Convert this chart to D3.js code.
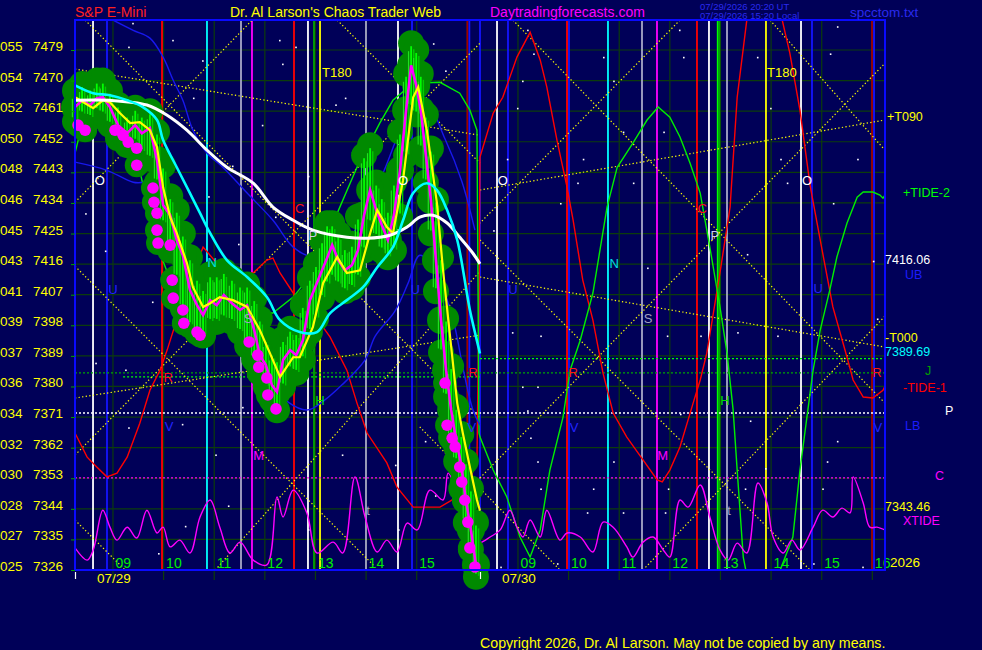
<!DOCTYPE html>
<html>
<head>
<meta charset="utf-8">
<script src="https://cdn.jsdelivr.net/npm/d3@7"></script>
<style>
  html, body { margin: 0; padding: 0; background: #000058; }
  svg { display: block; font-family: "Liberation Sans", Arial, sans-serif; }
</style>
</head>
<body>
<svg id="chart" width="982" height="650"></svg>
<script>
// time axis: session hours from 08:15 on 07/29 (0..8) and 07/30 (8..16)
const days = ['07/29', '07/30'];
const hours = ['09', '10', '11', '12', '13', '14', '15', '16'];
const priceTicks = [7326, 7335, 7344, 7353, 7362, 7371, 7380, 7389, 7398, 7407, 7416, 7425, 7434, 7443, 7452, 7461, 7470, 7479];
const priceCodes = ['025', '027', '028', '030', '032', '034', '036', '037', '039', '041', '043', '045', '046', '048', '050', '052', '054', '055'];

const barT = [0, .14, .30, .43, .55, .69, .85, 1.03, 1.19, 1.32, 1.48, 1.62, 1.74, 1.88, 2.01, 2.13, 2.27, 2.41, 2.53, 2.67, 2.80, 2.94,
  3.10, 3.26, 3.40, 3.54, 3.65, 3.77, 3.89, 3.99, 4.11, 4.25, 4.37, 4.50, 4.64, 4.76, 4.88, 4.98, 5.08, 5.20, 5.33, 5.47, 5.59, 5.71, 5.83, 5.95,
  6.06, 6.18, 6.30, 6.42, 6.54, 6.64, 6.74, 6.83, 6.93, 7.03, 7.13, 7.23, 7.33, 7.43, 7.53, 7.63, 7.72, 7.82, 7.92];
const barClose = [7462.2, 7464.2, 7462.8, 7464.8, 7465.1, 7462.2, 7456.9, 7454.5, 7456.9, 7454.5, 7456.0, 7446.6, 7433.4, 7430.4,
  7423.1, 7418.6, 7408.4, 7403.9, 7401.0, 7405.4, 7403.9, 7406.9, 7404.5, 7402.5, 7403.9, 7396.6, 7389.2, 7386.3, 7380.4, 7378.4,
  7387.8, 7390.7, 7389.2, 7393.6, 7405.4, 7409.8, 7414.2, 7417.8, 7421.6, 7417.2, 7414.2, 7415.7, 7420.1, 7430.4, 7437.8, 7431.9,
  7427.5, 7423.1, 7430.4, 7443.6, 7461.3, 7474.5, 7468.6, 7461.3, 7448.1, 7434.8, 7417.2, 7399.5, 7384.8, 7373.1, 7364.2, 7356.9, 7346.6, 7337.8, 7327.5];
const barHigh = [7467, 7469, 7468, 7470, 7470, 7467, 7463, 7460, 7462, 7460, 7461, 7455, 7445, 7436,
  7432, 7425, 7418, 7412, 7409, 7413, 7413, 7414, 7412, 7410, 7410, 7406, 7400, 7394, 7390, 7388,
  7394, 7397, 7396, 7404, 7412, 7416, 7423, 7428, 7428, 7425, 7421, 7422, 7430, 7448, 7451, 7440,
  7436, 7432, 7440, 7455, 7472, 7481, 7479, 7472, 7460, 7450, 7435, 7418, 7400, 7386, 7374, 7366, 7358, 7350, 7340];
const barLow = [7458, 7460, 7459, 7461, 7460, 7457, 7453, 7451, 7452, 7449, 7447, 7440, 7428, 7420,
  7412, 7403, 7398, 7396, 7395, 7399, 7399, 7400, 7399, 7396, 7392, 7388, 7384, 7380, 7376, 7373,
  7380, 7385, 7384, 7388, 7396, 7400, 7406, 7410, 7412, 7410, 7408, 7409, 7412, 7420, 7428, 7424,
  7420, 7418, 7420, 7430, 7448, 7462, 7460, 7450, 7440, 7425, 7408, 7390, 7377, 7365, 7358, 7350, 7340, 7332, 7324];
const lowDots = [[.06, 7456.9], [.20, 7455.4], [.79, 7455.4], [.95, 7453.9], [1.05, 7451.9], [1.22, 7450.1], [1.22, 7445.1], [1.54, 7438.4],
  [1.56, 7434.2], [1.62, 7431.0], [1.62, 7426.0], [1.64, 7422.2], [1.88, 7421.6], [1.92, 7411.3], [1.94, 7406.0], [2.13, 7402.5],
  [2.15, 7398.6], [2.41, 7396.0], [2.47, 7395.1], [3.44, 7393.1], [3.61, 7389.2], [3.63, 7385.7], [3.79, 7382.5], [3.81, 7377.5],
  [3.97, 7373.4], [7.31, 7381.0], [7.35, 7368.6], [7.45, 7364.8], [7.51, 7362.2], [7.60, 7356.3], [7.64, 7351.9], [7.70, 7346.6],
  [7.76, 7340.1], [7.80, 7332.5], [7.90, 7326.9]];

const yellowLine = [[0, 7465.1], [.36, 7461.9], [.55, 7464.2], [.69, 7463.6], [.89, 7460.4], [1.09, 7457.5], [1.28, 7457.8], [1.48, 7455.4],
  [1.62, 7450.4], [1.74, 7438.6], [1.88, 7429.8], [2.01, 7425.1], [2.21, 7416.3], [2.33, 7409.2], [2.53, 7403.4], [2.67, 7404.5],
  [2.86, 7406.3], [3.12, 7405.4], [3.40, 7403.4], [3.65, 7396.6], [3.85, 7389.8], [4.05, 7382.8], [4.31, 7388.6], [4.44, 7388.6],
  [4.70, 7397.5], [4.90, 7410.4], [5.18, 7418.1], [5.37, 7413.4], [5.63, 7414.2], [5.83, 7425.1], [5.97, 7431.9], [6.16, 7426.9],
  [6.28, 7425.1], [6.48, 7440.7], [6.68, 7465.1], [6.78, 7468.1], [6.95, 7455.4], [7.15, 7433.9], [7.27, 7414.2], [7.41, 7394.5],
  [7.55, 7375.1], [7.66, 7366.3], [7.80, 7356.3], [7.94, 7346.6], [8.00, 7343.46]];
const whiteLine = [[0, 7464.2], [.69, 7464.2], [1.42, 7462.8], [1.82, 7459.8], [2.21, 7455.4], [2.61, 7449.5], [3.00, 7444.5], [3.52, 7439.8],
  [3.91, 7432.8], [4.31, 7428.9], [4.70, 7426.0], [5.37, 7423.9], [5.77, 7423.6], [6.22, 7424.5], [6.56, 7426.9], [6.81, 7429.8],
  [7.07, 7430.4], [7.35, 7428.1], [7.60, 7423.9], [7.86, 7419.2], [8.00, 7416.06]];
const cyanLine = [[0, 7468.6], [.36, 7466.3], [.69, 7465.7], [1.03, 7464.2], [1.34, 7462.2], [1.62, 7458.4], [1.74, 7452.5], [2.01, 7444.5],
  [2.27, 7436.9], [2.47, 7431.0], [2.67, 7425.1], [3.00, 7417.2], [3.40, 7412.2], [3.79, 7406.3], [4.05, 7399.5], [4.44, 7396.0],
  [4.78, 7396.0], [5.04, 7401.6], [5.37, 7405.4], [5.69, 7409.2], [5.97, 7415.1], [6.28, 7421.0], [6.48, 7428.9], [6.68, 7436.9],
  [6.95, 7439.8], [7.15, 7437.8], [7.35, 7431.9], [7.55, 7423.1], [7.74, 7407.5], [7.80, 7402.5], [8.00, 7389.69]];
const blueLine1 = [[.75, 7487.8], [1.15, 7484.8], [1.48, 7482.5], [1.74, 7476.9], [1.94, 7470.1], [2.13, 7464.2], [2.33, 7455.4], [2.61, 7448.6],
  [2.92, 7444.5], [3.40, 7436.9], [3.91, 7428.9], [4.31, 7421.0], [4.70, 7418.1], [5.23, 7420.1], [6.02, 7440.7], [6.62, 7461.3],
  [6.91, 7464.2], [7.31, 7452.8], [7.64, 7440.4], [7.90, 7426.0]];
const blueLine2 = [[0, 7446.0], [.63, 7443.6], [1.15, 7440.1], [1.54, 7439.5], [2.07, 7426.0], [2.82, 7398.1], [3.42, 7392.8], [3.85, 7381.9],
  [4.21, 7375.4], [4.60, 7373.1], [4.88, 7375.4], [5.27, 7380.4], [5.73, 7387.8], [5.93, 7394.8], [6.32, 7402.2], [6.58, 7410.4],
  [6.81, 7418.6], [7.11, 7414.2], [7.47, 7399.5], [7.66, 7385.7], [7.86, 7373.1], [8.00, 7368.6]];
const tide1 = [[0, 7366.3], [.24, 7359.2], [.43, 7356.3], [.63, 7353.4], [.83, 7354.5], [1.03, 7359.2], [1.28, 7369.2], [1.48, 7378.9],
  [1.68, 7384.8], [1.82, 7390.7], [2.07, 7402.5], [2.33, 7413.4], [2.53, 7421.0], [2.80, 7416.3], [3.26, 7413.4], [3.52, 7413.4],
  [3.79, 7417.2], [3.91, 7417.8], [4.05, 7413.4], [4.31, 7407.5], [4.70, 7401.6], [5.04, 7394.5], [5.37, 7384.8], [5.57, 7375.1],
  [5.77, 7366.3], [6.16, 7357.5], [6.36, 7350.4], [6.68, 7344.5], [7.21, 7344.5], [7.55, 7347.5], [7.80, 7352.5], [7.94, 7358.4],
  [7.98, 7405.4], [8.00, 7447.5], [8.26, 7460.4], [8.45, 7465.1], [8.73, 7476.9], [8.99, 7484.2], [9.19, 7476.0], [9.32, 7468.1],
  [9.52, 7452.5], [9.72, 7438.6], [9.84, 7428.9], [10.03, 7411.3], [10.23, 7399.5], [10.43, 7383.9], [10.63, 7372.2], [10.90, 7365.1],
  [11.22, 7358.4], [11.50, 7352.5], [11.60, 7351.9], [11.75, 7355.4], [11.95, 7362.2], [12.21, 7375.1], [12.35, 7381.9], [12.48, 7389.8],
  [12.74, 7413.4], [12.94, 7432.8], [13.08, 7465.1], [13.27, 7487.8], [13.63, 7505.0], [13.97, 7487.8], [14.12, 7478.1], [14.32, 7461.3],
  [14.52, 7439.2], [14.72, 7423.1], [14.97, 7403.4], [15.25, 7388.6], [15.37, 7381.9], [15.57, 7376.9], [15.76, 7376.6], [15.96, 7378.9], [16.00, 7380.1]];
const tide2 = [[0, 7448.6], [.16, 7458.4], [.49, 7463.4], [.99, 7452.5], [1.28, 7443.6], [1.42, 7433.9], [1.68, 7419.2], [2.13, 7401.6],
  [2.47, 7393.6], [2.73, 7396.6], [3.12, 7399.5], [3.52, 7401.6], [3.91, 7401.6], [4.31, 7406.3], [4.58, 7411.3], [4.84, 7419.2],
  [5.18, 7431.0], [5.57, 7444.5], [6.02, 7457.5], [6.28, 7464.2], [6.68, 7469.2], [7.21, 7469.5], [7.60, 7466.3], [7.80, 7461.3],
  [7.94, 7455.4], [7.98, 7366.3], [8.00, 7365.1], [8.26, 7355.4], [8.53, 7347.5], [8.79, 7335.7], [8.99, 7329.8], [9.19, 7337.8],
  [9.38, 7355.4], [9.64, 7371.0], [9.78, 7384.8], [9.98, 7393.6], [10.23, 7407.5], [10.51, 7432.8], [10.71, 7444.5], [11.02, 7451.6],
  [11.30, 7458.4], [11.52, 7462.2], [11.75, 7459.2], [11.95, 7453.4], [12.15, 7445.7], [12.35, 7436.9], [12.54, 7421.0], [12.74, 7403.4],
  [12.88, 7389.8], [13.00, 7373.1], [13.08, 7355.4], [13.20, 7329.8], [13.27, 7324.5], [13.63, 7317.0], [13.93, 7326.0], [14.18, 7335.7],
  [14.32, 7355.4], [14.58, 7384.8], [14.72, 7396.6], [14.91, 7408.4], [15.05, 7418.1], [15.25, 7428.1], [15.45, 7435.7], [15.57, 7437.2],
  [15.76, 7437.2], [15.90, 7436.3], [15.96, 7435.4], [16.00, 7436.3]];
const xtide = [[0, 7332.5], [.24, 7328.9], [.36, 7331.9], [.55, 7343.6], [.69, 7338.6], [.83, 7334.8], [1.03, 7338.6], [1.22, 7335.4],
  [1.42, 7343.6], [1.62, 7336.9], [1.74, 7338.6], [1.88, 7332.8], [2.07, 7334.8], [2.27, 7331.0], [2.47, 7341.6], [2.67, 7346.6],
  [2.86, 7338.6], [3.06, 7331.0], [3.26, 7334.2], [3.52, 7328.9], [3.79, 7327.5], [3.99, 7347.5], [4.11, 7341.6], [4.31, 7349.5],
  [4.58, 7342.8], [4.78, 7331.0], [5.10, 7334.2], [5.29, 7331.0], [5.53, 7353.4], [5.73, 7341.6], [5.97, 7331.3], [6.16, 7334.8],
  [6.36, 7331.3], [6.56, 7339.8], [6.76, 7337.8], [7.01, 7349.5], [7.27, 7346.6], [7.37, 7354.5], [7.55, 7348.6], [7.70, 7340.7],
  [7.86, 7333.4], [8.00, 7333.9], [8.20, 7335.7], [8.40, 7337.8], [8.59, 7343.6], [8.73, 7338.6], [8.85, 7335.7], [8.99, 7340.7],
  [9.19, 7335.7], [9.32, 7343.6], [9.58, 7334.8], [9.72, 7336.9], [9.98, 7335.7], [10.23, 7331.3], [10.43, 7340.1], [10.63, 7338.6],
  [10.90, 7332.8], [11.02, 7329.8], [11.22, 7334.2], [11.42, 7335.7], [11.62, 7331.9], [11.75, 7329.8], [11.95, 7346.6], [12.11, 7344.5],
  [12.35, 7351.0], [12.54, 7341.6], [12.74, 7331.9], [12.90, 7328.9], [13.08, 7333.9], [13.27, 7331.0], [13.49, 7351.6], [13.67, 7345.7],
  [13.79, 7335.7], [13.99, 7331.0], [14.16, 7334.8], [14.32, 7331.9], [14.58, 7338.6], [14.77, 7343.6], [14.97, 7341.6], [15.15, 7344.2],
  [15.31, 7342.8], [15.37, 7353.4], [15.57, 7345.7], [15.70, 7338.6], [15.84, 7338.6], [16.00, 7337.8]];

const verticals = [[.356, 'w'], [.632, 'b'], [1.719, 'r'], [2.607, 'c'], [3.279, 'g'], [3.496, 'm'], [4.326, 'r'], [4.602, 'w'], [4.721, 'dg'],
  [4.840, 'y'], [5.748, 'g'], [6.380, 'w'], [6.657, 'b'], [7.75, 'dr'], [7.79, 'b'], [8.0, 'b'],
  [8.336, 'w'], [8.553, 'b'], [9.719, 'r'], [9.758, 'b'], [10.528, 'c'], [11.200, 'g'], [11.496, 'm'], [12.286, 'r'], [12.523, 'w'],
  [12.696, 'lg'], [12.728, 'dg'], [12.879, 'g'], [13.649, 'y'], [14.341, 'w'], [14.558, 'b'], [15.743, 'dr'], [15.783, 'b']];
const levels = [[7372.2, 0, 16, 'w'], [7353.1, 0, 16, 'm'], [7384.0, 0, 16, 'dg'], [7382.8, .95, 8, 'lg'], [7388.2, 8, 16, 'lg']];
const gannLines = [[0, 7434.2, 3.50, 7487.8], [.20, 7487.8, 8.0, 7370.7], [0, 7415.4, 5.93, 7326.9], [0, 7359.8, 8.0, 7481.0],
  [2.77, 7326, 8.0, 7413.9], [0, 7473.4, 8.0, 7453.9], [0, 7376.6, 8.0, 7395.1], [0, 7340.7, .99, 7326], [6.81, 7368.1, 9.58, 7326],
  [8.65, 7487.8, 16, 7375.1], [11.95, 7487.8, 8.0, 7428.1], [8.0, 7423.1, 14.52, 7326], [8.0, 7353.1, 16, 7475.1],
  [13.73, 7487.8, 16, 7449.5], [11.22, 7326, 16, 7400.7], [8.0, 7437.8, 16, 7458.4], [8.0, 7412.2, 16, 7391.6], [5.18, 7487.8, 8.0, 7445.7]];
const letters = [[.49, 7440.7, 'O'], [.75, 7408.4, 'U'], [2.71, 7416.6, 'N'], [1.84, 7382.5, 'R'], [1.86, 7368.1, 'V'], [3.63, 7359.8, 'M'],
  [4.44, 7432.5, 'C'], [4.70, 7424.5, 'P'], [4.84, 7376.0, 'H'], [3.42, 7400.1, 'S'], [6.48, 7440.7, 'O'], [6.72, 7408.4, 'U'],
  [5.79, 7343.6, 't'], [7.86, 7384.2, 'R'], [7.84, 7367.8, 'V'],
  [8.45, 7440.7, 'O'], [8.65, 7408.4, 'U'], [10.65, 7416.3, 'N'], [11.32, 7400.1, 'S'], [12.39, 7432.5, 'C'], [12.64, 7424.5, 'P'],
  [9.84, 7384.2, 'R'], [9.86, 7367.8, 'V'], [11.61, 7359.8, 'M'], [12.84, 7376.0, 'H'], [12.92, 7343.6, 't'], [14.46, 7440.7, 'O'],
  [14.68, 7408.9, 'U'], [15.84, 7384.2, 'R'], [15.86, 7367.8, 'V']];
const angleTags = [[4.88, 7472.5, 'T180'], [13.67, 7472.5, 'T180']];
const rightTags = [['+T090', 7458.4], ['+TIDE-2', 7436.3], ['7416.06', 7416.06], ['UB', 7416.06], ['-T000', 7391.6], ['7389.69', 7389.69],
  ['J', 7384.0], ['-TIDE-1', 7380.1], ['P', 7372.2], ['LB', 7372.2], ['C', 7353.1], ['7343.46', 7343.46], ['XTIDE', 7343.46]];
const stars = [[1.05, 7480], [1.92, 7482], [2.51, 7476], [4.09, 7475], [4.35, 7480], [7.07, 7481], [7.31, 7473], [.79, 7454], [.20, 7431],
  [.59, 7420], [2.63, 7436], [3.10, 7445], [3.69, 7457], [3.95, 7430], [5.14, 7463], [5.47, 7449], [4.60, 7442], [3.22, 7422], [1.52, 7405],
  [.40, 7387], [.99, 7385], [1.05, 7368], [2.11, 7369], [2.77, 7360], [3.30, 7374], [5.27, 7360], [6.32, 7357], [6.91, 7364], [2.17, 7339],
  [3.02, 7345], [4.60, 7338], [6.38, 7338], [7.11, 7348], [1.64, 7331], [8.93, 7485], [9.05, 7478], [8.83, 7470], [8.73, 7462], [8.53, 7447],
  [8.26, 7426], [8.63, 7396], [9.19, 7395], [9.58, 7434], [9.92, 7440], [10.03, 7447], [10.43, 7477], [10.63, 7470], [10.82, 7455],
  [11.02, 7440], [11.30, 7415], [11.62, 7455], [11.69, 7395], [11.93, 7485], [12.01, 7477], [12.35, 7395], [13.08, 7396], [13.27, 7419],
  [13.47, 7477], [13.73, 7462], [13.93, 7447], [14.06, 7440], [13.87, 7395], [15.05, 7486], [14.91, 7478], [15.45, 7447], [14.97, 7434],
  [15.76, 7417], [15.84, 7400], [8.83, 7380], [9.13, 7380], [8.93, 7373], [8.99, 7365], [9.13, 7358], [9.19, 7350], [10.11, 7343],
  [10.23, 7350], [10.63, 7358], [10.82, 7343], [11.65, 7343], [11.71, 7350], [11.95, 7372], [13.23, 7350], [13.33, 7370], [13.63, 7356],
  [14.76, 7350], [14.85, 7358], [15.05, 7364], [14.58, 7328], [15.55, 7327], [8.40, 7327], [9.52, 7328], [1.13, 7487], [4.03, 7482],
  [5.33, 7465], [2.33, 7465]];

const BG = '#000058', GRID = '#0c3c0c', FRAME = '#0a0aff';
const lineColor = { w: '#ffffff', b: '#1414ff', r: '#ff0000', c: '#00ffff', g: '#a8a8c8', m: '#ff00ff', dg: '#00a800', lg: '#00ff00', y: '#ffff00', dr: '#a00000' };
const letterColor = { O: '#ffffff', U: '#2424ff', N: '#00e0e0', R: '#ff1414', V: '#2424ff', M: '#ff00ff', C: '#ff1414', P: '#ccccee', H: '#00e000', t: '#a0a0c0', S: '#a0a0c0' };
const tagStyle = {
  '+T090': [887, 1, '#ffff00'], '+TIDE-2': [903, 2, '#00ff00'], '7416.06': [885, 0, '#ffffff'], 'UB': [905, 15, '#1c1cff'],
  '-T000': [885, -5, '#ffff00'], '7389.69': [885, 2, '#00ffff'], 'J': [925, 2, '#00a000'], '-TIDE-1': [903, 6, '#ff0000'],
  'P': [945, 2, '#ffffff'], 'LB': [905, 17, '#1c1cff'], 'C': [935, 2, '#ff00ff'], '7343.46': [885, 0, '#ffff00'], 'XTIDE': [903, 14, '#ff00ff']
};

const W = 982, H = 650, L = 75, R = 885, T = 20, B = 570;
const x = d3.scaleLinear().domain([0, 16]).range([L, R]);
const y = d3.scaleLinear().domain([7326, 7479]).range([B, 50]);
const hourT = (day, i) => day * 8 + i + 0.75;

const svg = d3.select('#chart');
svg.append('rect').attr('width', W).attr('height', H).attr('fill', BG);
svg.append('defs').append('clipPath').attr('id', 'plot')
  .append('rect').attr('x', L).attr('y', T).attr('width', R - L).attr('height', B - T);

// grid
const grid = svg.append('g').attr('stroke', GRID).attr('stroke-width', 1.2);
grid.selectAll('.hg').data(priceTicks).join('line')
  .attr('x1', L).attr('x2', R).attr('y1', d => y(d)).attr('y2', d => y(d));
const hourTicks = days.flatMap((d, di) => hours.map((h, i) => ({ day: di, h, t: hourT(di, i) })));
grid.selectAll('.vg').data(hourTicks).join('line')
  .attr('x1', d => x(d.t)).attr('x2', d => x(d.t)).attr('y1', T).attr('y2', B + 10);

const plot = svg.append('g').attr('clip-path', 'url(#plot)');

plot.append('g').selectAll('line').data(verticals).join('line')
  .attr('x1', d => x(d[0])).attr('x2', d => x(d[0])).attr('y1', T).attr('y2', B)
  .attr('stroke', d => lineColor[d[1]]).attr('stroke-width', 1.8);

plot.append('g').selectAll('line').data(levels).join('line')
  .attr('x1', d => x(d[1])).attr('x2', d => x(d[2])).attr('y1', d => y(d[0])).attr('y2', d => y(d[0]))
  .attr('stroke', d => lineColor[d[3]]).attr('stroke-width', 1.3).attr('stroke-dasharray', '2,2');

plot.append('g').selectAll('line').data(gannLines).join('line')
  .attr('x1', d => x(d[0])).attr('y1', d => y(d[1])).attr('x2', d => x(d[2])).attr('y2', d => y(d[3]))
  .attr('stroke', '#ffff00').attr('stroke-width', 1.2).attr('stroke-dasharray', '1.3,2.3');

plot.append('g').selectAll('rect').data(stars).join('rect')
  .attr('x', d => x(d[0])).attr('y', d => y(d[1])).attr('width', 1.6).attr('height', 1.6).attr('fill', '#ffffff');

// hour labels sit under the price blobs
svg.append('g').selectAll('text').data(hourTicks).join('text')
  .attr('x', d => x(d.t) + 2.5).attr('y', B - 2)
  .attr('fill', '#00ee00').attr('font-size', '14px').text(d => d.h);

const line = d3.line().x(d => x(d[0])).y(d => y(d[1]));
const smooth = d3.line().x(d => x(d[0])).y(d => y(d[1])).curve(d3.curveCatmullRom.alpha(0.5));

const curves = [[tide1, '#ff0000', line], [tide2, '#00ee00', line], [blueLine1, '#1818ee', smooth], [blueLine2, '#1818ee', smooth], [xtide, '#ff00ff', smooth]];
plot.append('g').selectAll('path').data(curves).join('path')
  .attr('d', d => d[2](d[0])).attr('fill', 'none').attr('stroke', d => d[1]).attr('stroke-width', 1.4);

// price blobs and bars
const bars = barT.map((t, i) => ({ t, c: barClose[i], h: barHigh[i], l: barLow[i] }));
const blob = svg.append('g').attr('fill', '#008a00');
blob.selectAll('.bh').data(bars).join('circle').attr('cx', d => x(d.t)).attr('cy', d => y(d.h)).attr('r', 13);
blob.selectAll('.bl').data(bars).join('circle').attr('cx', d => x(d.t)).attr('cy', d => y(d.l)).attr('r', 13);
blob.selectAll('.bc').data(bars).join('circle').attr('cx', d => x(d.t)).attr('cy', d => y(d.c)).attr('r', 14);
blob.selectAll('.bd').data(lowDots).join('circle').attr('cx', d => x(d[0])).attr('cy', d => y(d[1])).attr('r', 12);

svg.append('g').selectAll('line').data(bars).join('line')
  .attr('x1', d => x(d.t)).attr('x2', d => x(d.t)).attr('y1', d => y(d.h) + 3).attr('y2', d => y(d.l) - 3)
  .attr('stroke', '#00ff00').attr('stroke-width', 1.8);
svg.append('g').selectAll('line').data(bars).join('line')
  .attr('x1', d => x(d.t) + 2.6).attr('x2', d => x(d.t) + 2.6).attr('y1', d => y(d.h) + 6).attr('y2', d => y(d.l) - 1)
  .attr('stroke', '#00cc00').attr('stroke-width', 1.4);
svg.append('g').selectAll('line').data(bars).join('line')
  .attr('x1', d => x(d.t) - 2.6).attr('x2', d => x(d.t) - 2.6).attr('y1', d => y(d.h) + 8).attr('y2', d => y(d.l) - 4)
  .attr('stroke', '#20e020').attr('stroke-width', 1.2);

svg.append('g').attr('fill', '#ff00ff').selectAll('circle').data(lowDots).join('circle')
  .attr('cx', d => x(d[0])).attr('cy', d => y(d[1])).attr('r', 5.8);

svg.append('path').datum(bars.map(d => [d.t, d.c])).attr('d', line)
  .attr('fill', 'none').attr('stroke', '#ff00ff').attr('stroke-width', 2.6);
svg.append('path').datum(yellowLine).attr('d', line)
  .attr('fill', 'none').attr('stroke', '#ffff00').attr('stroke-width', 2.2);
svg.append('path').datum(whiteLine).attr('d', smooth)
  .attr('fill', 'none').attr('stroke', '#ffffff').attr('stroke-width', 3);
svg.append('path').datum(cyanLine).attr('d', smooth)
  .attr('fill', 'none').attr('stroke', '#00ffff').attr('stroke-width', 2.6);

svg.append('g').selectAll('text').data(letters).join('text')
  .attr('x', d => x(d[0])).attr('y', d => y(d[1])).attr('text-anchor', 'middle').attr('dominant-baseline', 'central')
  .attr('fill', d => letterColor[d[2]]).attr('font-size', '13px').text(d => d[2]);
svg.append('g').selectAll('text').data(angleTags).join('text')
  .attr('x', d => x(d[0])).attr('y', d => y(d[1])).attr('dominant-baseline', 'central')
  .attr('fill', '#ffff00').attr('font-size', '13px').text(d => d[2]);

// frame
svg.append('rect').attr('x', L).attr('y', T).attr('width', R - L).attr('height', B - T)
  .attr('fill', 'none').attr('stroke', FRAME).attr('stroke-width', 2);

// left axis
const yAxis = svg.append('g').attr('transform', `translate(${L},0)`)
  .call(d3.axisLeft(y).tickValues(priceTicks).tickSize(4).tickFormat(''));
yAxis.select('.domain').remove();
yAxis.selectAll('line').attr('stroke', '#00a000');
const yl = svg.append('g').attr('fill', '#ffff00').attr('font-size', '13.5px');
yl.selectAll('.code').data(priceTicks).join('text').attr('x', 0).attr('y', d => y(d) + 1).text((d, i) => priceCodes[i]);
yl.selectAll('.px').data(priceTicks).join('text').attr('x', 33).attr('y', d => y(d) + 1).text(d => d);

// day marks and dates
svg.append('g').selectAll('line').data(days).join('line')
  .attr('x1', (d, i) => x(i * 8) + 0.5).attr('x2', (d, i) => x(i * 8) + 0.5).attr('y1', B + 2).attr('y2', B + 9)
  .attr('stroke', '#ffffff').attr('stroke-width', 1.2);
svg.append('g').selectAll('text').data(days).join('text')
  .attr('x', (d, i) => x(i * 8) + 22).attr('y', B + 13)
  .attr('fill', '#ffff00').attr('font-size', '13.5px').text(d => d);

// right side tags
svg.append('g').selectAll('text').data(rightTags).join('text')
  .attr('x', d => tagStyle[d[0]][0]).attr('y', d => y(d[1]) + tagStyle[d[0]][1])
  .attr('fill', d => tagStyle[d[0]][2]).attr('font-size', '12.5px').text(d => d[0]);
svg.append('text').attr('x', 890).attr('y', 567).attr('fill', '#ffff00').attr('font-size', '13.5px').text('2026');

// header and footer
svg.append('text').attr('x', 75).attr('y', 17).attr('fill', '#ff2020').attr('font-size', '14px').text('S&P E-Mini');
svg.append('text').attr('x', 230).attr('y', 17).attr('fill', '#ffff00').attr('font-size', '14px').text("Dr. Al Larson's Chaos Trader Web");
svg.append('text').attr('x', 490).attr('y', 17).attr('fill', '#ff00ff').attr('font-size', '14px').text('Daytradingforecasts.com');
svg.append('text').attr('x', 700).attr('y', 9.5).attr('fill', '#2a2aee').attr('font-size', '9.5px').text('07/29/2026 20:20 UT');
svg.append('text').attr('x', 700).attr('y', 19).attr('fill', '#2a2aee').attr('font-size', '9.5px').text('07/29/2026 15:20 Local');
svg.append('text').attr('x', 850).attr('y', 17).attr('fill', '#2a2aee').attr('font-size', '13.5px').text('spcctom.txt');
svg.append('text').attr('x', 480).attr('y', 648).attr('fill', '#ffff00').attr('font-size', '14.2px')
  .text('Copyright 2026, Dr. Al Larson. May not be copied by any means.');
</script>
</body>
</html>
